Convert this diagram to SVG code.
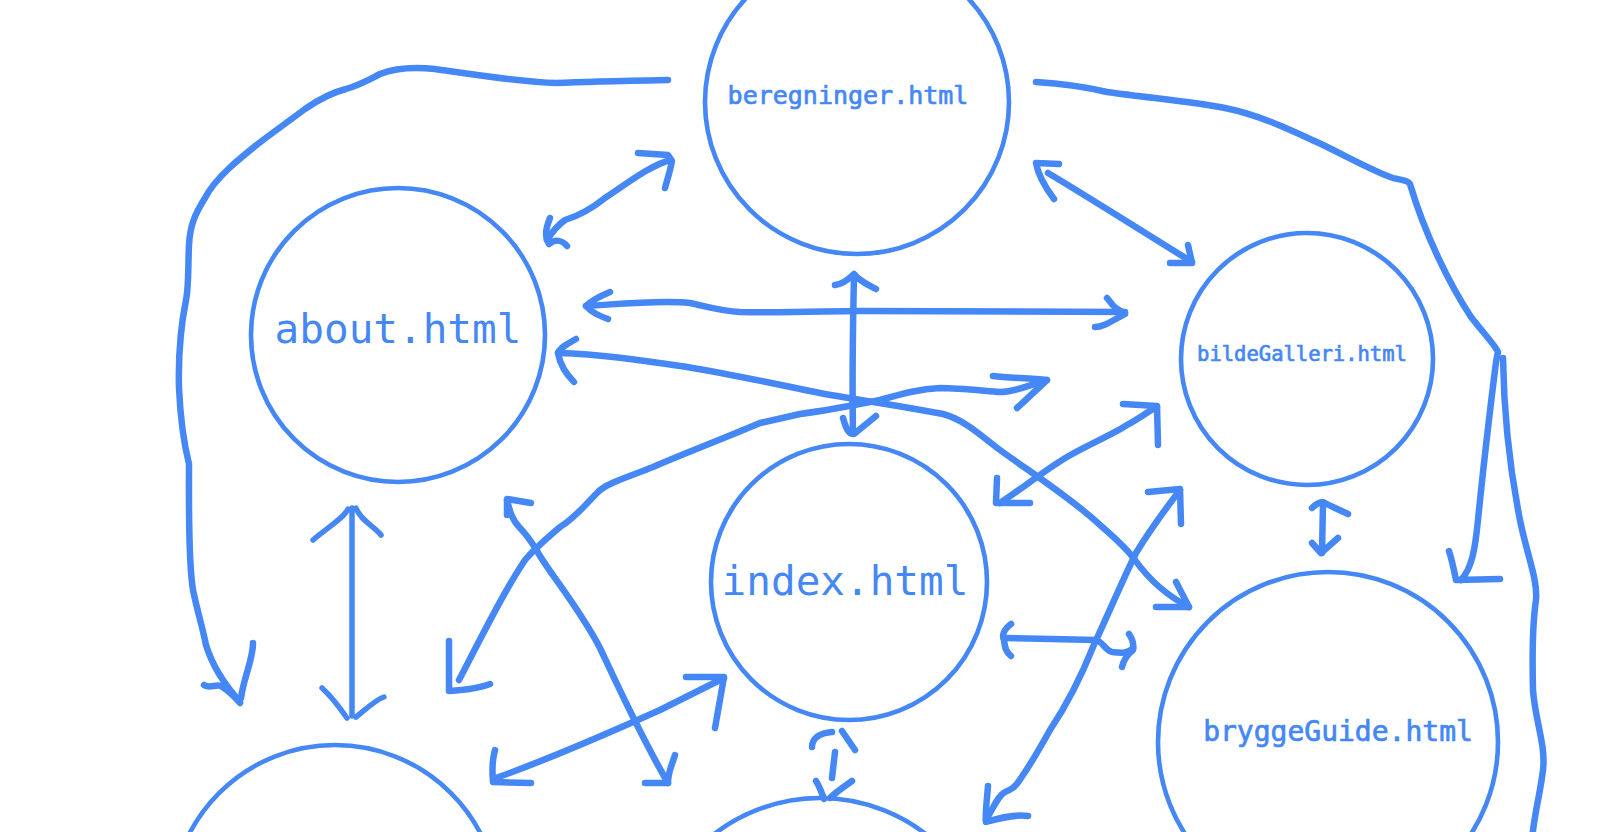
<svg xmlns="http://www.w3.org/2000/svg" width="1600" height="832" viewBox="0 0 1600 832">
<style>
.node{fill:none;stroke:#4487f5;stroke-width:4.6}
.lbl{fill:#4487f5;font-family:"DejaVu Sans Mono","Liberation Mono",monospace;text-anchor:middle}
.b{stroke:#4487f5;stroke-width:0.7}
.c path{fill:none;stroke:#4487f5;stroke-width:6.5;stroke-linecap:round;stroke-linejoin:round}
</style>
<rect width="1600" height="832" fill="#ffffff"/>
<g id="node-beregninger"><circle class="node" cx="857" cy="102" r="152"/><text class="lbl b" x="848" y="104" font-size="25">beregninger.html</text></g>
<g id="node-about"><circle class="node" cx="398" cy="335" r="147"/><text class="lbl" x="398" y="343" font-size="41">about.html</text></g>
<g id="node-bildeGalleri"><circle class="node" cx="1307" cy="359" r="126"/><text class="lbl b" x="1302" y="361" font-size="20.5">bildeGalleri.html</text></g>
<g id="node-index"><circle class="node" cx="849" cy="582" r="138"/><text class="lbl" x="845" y="595" font-size="41">index.html</text></g>
<g id="node-bryggeGuide"><circle class="node" cx="1328" cy="742" r="170"/><text class="lbl b" x="1338" y="741" font-size="28">bryggeGuide.html</text></g>
<g id="node-bottomLeft"><circle class="node" cx="335" cy="909" r="164"/></g>
<g id="node-bottomMiddle"><circle class="node" cx="820" cy="971" r="173"/></g>
<g id="connectors" class="c">
<path d="M668 80 C620 81 580 82 556 83 C520 82 470 74 435 69 C415 67 395 68 380 74 C370 79 360 85 346 89 C330 93 318 100 305 109 L263 140 C240 158 215 178 205 198 C195 214 190 225 189 245 C188 262 189 285 186 300 C181 325 178 350 179 388 C180 410 183 440 189 464 C189 500 188 560 193 590 C197 610 202 625 206 645 C212 665 225 685 240 702"/>
<path d="M204 685 C210 689 215 684 221 686 C229 691 234 696 240 703 M253 643 C253 660 244 676 241 698"/>
<path d="M1036 82 C1070 84 1090 88 1107 92 C1150 98 1195 102 1225 108 C1260 115 1290 130 1321 144 C1350 158 1375 172 1393 178 C1400 180 1408 180 1410 184 C1425 235 1450 285 1471 317 C1485 335 1495 345 1498 352 L1496 362 C1490 410 1483 470 1478 520 C1475 550 1472 568 1461 580"/>
<path d="M1449 551 C1452 560 1454 570 1456 580 L1500 579"/>
<path d="M1503 358 C1504 420 1510 470 1520 520 C1527 555 1538 580 1536 600 C1533 620 1532 650 1533 690 C1535 720 1546 745 1543 770 C1540 795 1534 815 1532 840"/>
<path d="M671 160 C650 165 625 185 605 198 C590 210 575 217 565 220 C558 225 552 232 547 240"/>
<path d="M550 218 C546 228 544 236 549 244 C555 239 562 240 567 246 M638 153 L668 155 L672 161 C670 172 667 180 665 188"/>
<path d="M586 306 C620 304 660 300 690 303 C705 306 720 311 740 312 C790 313 830 311 860 311 L1125 312"/>
<path d="M610 292 C598 297 590 302 586 306 C592 313 600 316 608 319 M1107 298 C1112 303 1112 308 1125 313 M1095 327 C1103 327 1110 322 1125 314"/>
<path d="M854 275 C853 320 852 380 853 433"/>
<path d="M835 285 C843 284 848 280 854 274 C859 281 867 284 876 289 M843 418 C846 428 848 434 854 434 L876 416"/>
<path d="M558 353 C600 354 640 360 687 367 C730 374 780 385 820 393 C850 399 880 402 943 414 C965 420 980 435 1000 450 C1030 472 1070 497 1100 525 C1115 538 1128 550 1135 560 C1145 574 1160 592 1189 607"/>
<path d="M576 339 C567 344 560 348 558 353 C560 365 567 375 574 382 M1156 607 L1189 607 L1176 582"/>
<path d="M1047 380 C1030 385 1015 392 1000 392 C985 391 960 388 940 388 C920 389 905 393 880 400 C850 406 830 410 800 414 L760 423 C720 440 680 455 653 467 C625 478 605 484 598 492 C585 505 575 518 560 527 C545 540 535 548 525 560 C505 590 485 630 459 680"/>
<path d="M993 376 C1010 378 1030 378 1047 380 L1017 408 M449 641 L449 691 C465 690 480 688 490 684"/>
<path d="M1000 503 C1020 490 1045 470 1067 457 C1085 446 1110 436 1127 425 C1140 418 1150 410 1157 407"/>
<path d="M1123 404 L1157 406 L1158 445 M997 478 L996 503 L1030 503"/>
<path d="M1004 638 L1096 640 C1103 642 1105 650 1112 652 C1120 653 1128 654 1133 648"/>
<path d="M1011 624 C1003 630 1002 636 1004 640 C1005 648 1006 652 1011 656 M1129 634 C1133 640 1134 645 1133 650 C1128 654 1124 658 1122 667"/>
<path d="M1180 490 C1170 503 1150 530 1136 553 C1125 575 1110 610 1093 647 C1083 672 1070 700 1050 730 C1040 748 1030 765 1021 778 C1015 788 1010 790 1005 792 C998 796 995 805 986 820"/>
<path d="M1148 492 L1180 489 L1181 524 M988 786 C987 800 985 812 986 822 C1000 818 1015 814 1028 816"/>
<path d="M812 747 C812 738 820 733 832 732 M842 731 L855 750 M835 752 L832 778 M816 781 C820 787 822 794 824 799 M852 781 C845 786 836 792 830 798"/>
<path d="M352 508 L352 716" style="stroke-width:5.5"/>
<path d="M313 540 C328 527 344 518 348 509 M356 508 C360 520 375 527 381 535 M322 688 C332 697 340 708 347 718 M384 697 C375 700 365 710 356 717" style="stroke-width:5.5"/>
<path d="M1323 503 L1322 553"/>
<path d="M1312 508 C1316 504 1320 502 1323 502 C1330 506 1340 510 1348 514 M1312 543 L1321 553 L1338 538"/>
<path d="M1048 173 C1090 198 1140 230 1192 262"/>
<path d="M1059 164 L1036 163 C1038 175 1045 187 1054 199 M1170 263 L1192 263 L1188 245"/>
<path d="M507 500 C510 512 512 520 520 528 C530 538 535 548 540 556 C555 580 580 610 600 648 C615 680 640 735 668 783"/>
<path d="M531 503 L507 499 L507 515 M645 783 L668 783 M675 755 C672 765 668 772 668 782"/>
<path d="M724 678 C700 690 680 700 660 710 C620 728 560 755 496 778"/>
<path d="M686 677 L724 677 L715 728 M495 750 C492 760 492 770 493 782 L531 783"/>
</g>
</svg>
